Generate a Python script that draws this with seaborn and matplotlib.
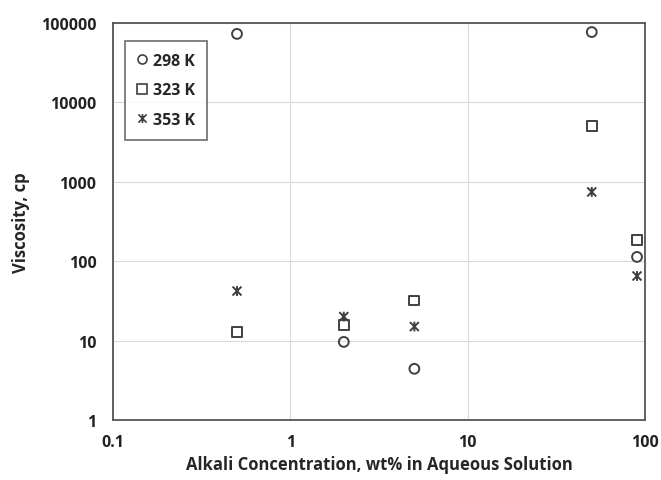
import numpy as np
import pandas as pd
import seaborn as sns
from matplotlib import pyplot as plt
from matplotlib.path import Path
from matplotlib.ticker import FixedLocator, FixedFormatter, NullLocator

# data
concentration = [0.5, 2, 5, 50, 90]
visc_298 = [73000, 9.6, 4.4, 77000, 113]
visc_323 = [12.8, 15.8, 32, 5000, 185]
visc_353 = [42, 20, 15, 745, 65]
series_labels = ['298 K', '323 K', '353 K']

x_ticks = [0.1, 1, 10, 100]
y_ticks = [1, 10, 100, 1000, 10000, 100000]


def star_marker():
    # Excel-style "x" with a vertical stroke
    verts = [(-1, -1), (1, 1), (-1, 1), (1, -1), (0, -1.1), (0, 1.1)]
    codes = [Path.MOVETO, Path.LINETO] * 3
    return Path(verts, codes)


def main():
    df = pd.DataFrame({
        'conc': concentration * 3,
        'visc': visc_298 + visc_323 + visc_353,
        'temp': np.repeat(series_labels, len(concentration)),
    })

    sns.set_theme(style='white')
    plt.rcParams['font.family'] = ['Open Sans', 'DejaVu Sans']
    plt.rcParams['font.weight'] = 'bold'

    fig = plt.figure(figsize=(6.61, 4.81), dpi=100)
    ax = fig.add_axes([0.171, 0.125, 0.805, 0.825])

    markers = {'298 K': 'o', '323 K': 's', '353 K': star_marker()}
    sns.scatterplot(data=df, x='conc', y='visc', style='temp', markers=markers,
                    color='none', edgecolor='#404040', linewidth=1.4, s=50,
                    ax=ax, legend=False)
    # the star marker is only lines, so give it a stroke colour
    for coll in ax.collections:
        coll.set_edgecolor('#404040')
        coll.set_facecolor('none')

    ax.set_xscale('log')
    ax.set_yscale('log')
    ax.set_xlim(0.1, 100)
    ax.set_ylim(1, 100000)

    ax.xaxis.set_major_locator(FixedLocator(x_ticks))
    ax.xaxis.set_major_formatter(FixedFormatter([str(v) for v in x_ticks]))
    ax.xaxis.set_minor_locator(NullLocator())
    ax.yaxis.set_major_locator(FixedLocator(y_ticks))
    ax.yaxis.set_major_formatter(FixedFormatter([str(v) for v in y_ticks]))
    ax.yaxis.set_minor_locator(NullLocator())
    ax.tick_params(length=0, labelsize=11.5, colors='#222222')
    ax.tick_params(axis='y', pad=12)
    ax.tick_params(axis='x', pad=10)

    ax.grid(True, color='#d9d9d9', linewidth=0.8)
    for sp in ax.spines.values():
        sp.set_color('#555555')
        sp.set_linewidth(1.3)

    ax.set_xlabel('Alkali Concentration, wt% in Aqueous Solution',
                  fontsize=12, fontweight='bold', labelpad=4)
    ax.set_ylabel('Viscosity, cp', fontsize=12, fontweight='bold', labelpad=8)

    handles = []
    for lab in series_labels:
        h = plt.Line2D([], [], linestyle='none', marker=markers[lab],
                       markerfacecolor='none', markeredgecolor='#404040',
                       markeredgewidth=1.2, markersize=6.5)
        handles.append(h)
    leg = ax.legend(handles, series_labels, loc='upper left',
                    bbox_to_anchor=(0.022, 0.955), borderaxespad=0,
                    handlelength=0.7, handletextpad=0.3, labelspacing=0.85,
                    fontsize=11.5, frameon=True, fancybox=False, borderpad=0.75)
    leg.get_frame().set_edgecolor('#555555')
    leg.get_frame().set_linewidth(1.3)

    fig.savefig('out.png', dpi=100)


if __name__ == '__main__':
    main()
